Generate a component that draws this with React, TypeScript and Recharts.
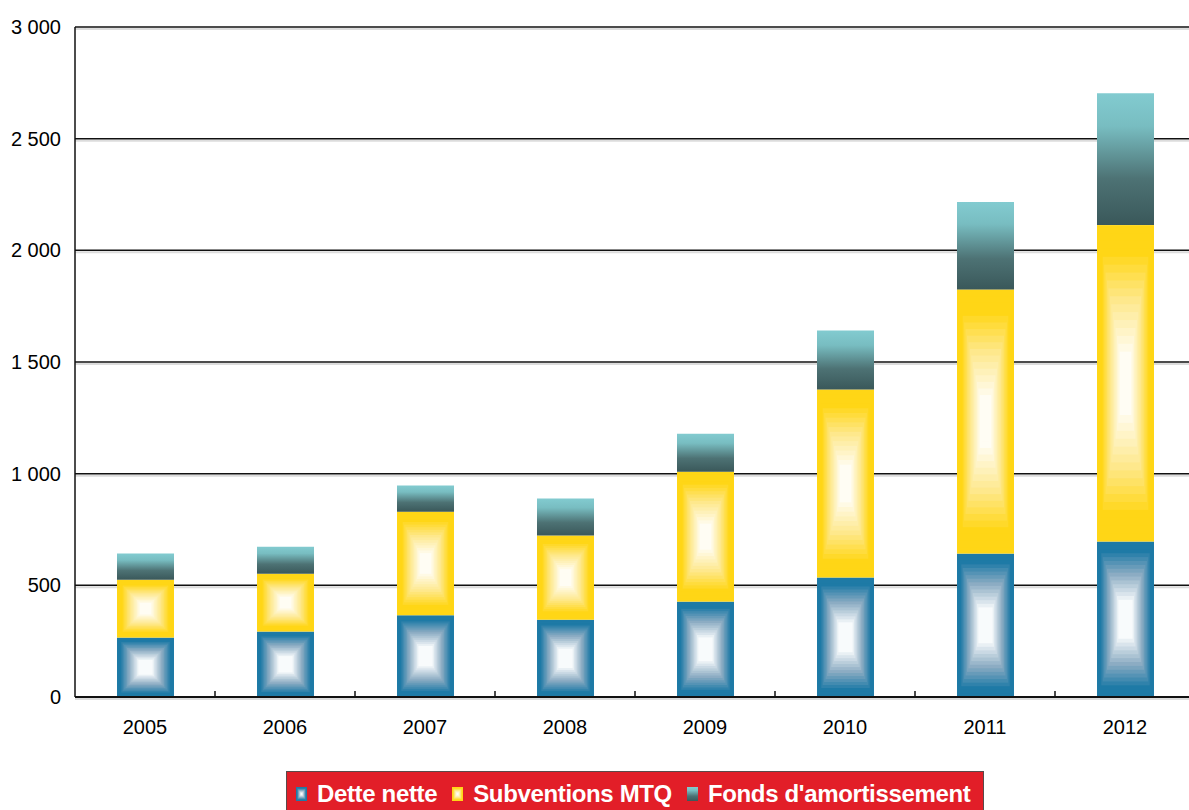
import React from "react";
import { BarChart, Bar, XAxis, YAxis, CartesianGrid, Legend } from "recharts";

// values (millions $)
const years = ["2005", "2006", "2007", "2008", "2009", "2010", "2011", "2012"];
const detteNette = [266, 293, 366, 346, 427, 535, 642, 696];
const subventionsMTQ = [259, 259, 464, 377, 582, 842, 1183, 1417];
const fondsAmortissement = [117, 121, 117, 166, 170, 264, 391, 590];
const yTicks = [0, 500, 1000, 1500, 2000, 2500, 3000];
const seriesOrder = ["dette", "subventions", "fonds"];

const data = years.map((year, i) => ({
  year,
  dette: detteNette[i],
  subventions: subventionsMTQ[i],
  fonds: fondsAmortissement[i],
}));

const FONT = "'Liberation Sans', Arial, sans-serif";
const CHART_W = 1196;
const PLOT_LEFT = 75;
const PLOT_RIGHT = 1;
const BAND = (CHART_W - PLOT_LEFT - PLOT_RIGHT) / years.length;

type RGB = [number, number, number];
// edge -> middle -> center colour stops for the "from center" fills
const BLUE: RGB[] = [[30, 122, 166], [140, 172, 195], [248, 251, 252]];
const YELLOW: RGB[] = [[255, 214, 22], [254, 232, 140], [255, 253, 244]];

const lerp = (a: RGB, b: RGB, t: number): RGB =>
  a.map((c, k) => Math.round(c + (b[k] - c) * t)) as RGB;

function ramp(stops: RGB[], t: number, start: number, mid: number, end: number) {
  let c: RGB;
  if (t <= start) c = stops[0];
  else if (t <= mid) c = lerp(stops[0], stops[1], (t - start) / (mid - start));
  else if (t <= end) c = lerp(stops[1], stops[2], (t - mid) / (end - mid));
  else c = stops[2];
  return `rgb(${c.join(",")})`;
}

// rectangular gradient drawn as concentric bands, like the original
function BoxGradient({ x, y, width, height, stops, start = 0.12, mid = 0.42, end = 0.78, steps = 20 }: any) {
  if (!width || !height) return null;
  const rects = [];
  for (let i = 0; i < steps; i++) {
    const t = i / steps;
    const ix = (t * width) / 2;
    const iy = (t * height) / 2;
    rects.push(
      <rect
        key={i}
        x={x + ix}
        y={y + iy}
        width={width - 2 * ix}
        height={height - 2 * iy}
        fill={ramp(stops, t, start, mid, end)}
      />
    );
  }
  return <g>{rects}</g>;
}

const DetteShape = (props: any) => <BoxGradient {...props} stops={BLUE} start={0.1} mid={0.4} end={0.75} />;
const SubvShape = (props: any) => <BoxGradient {...props} stops={YELLOW} start={0.15} mid={0.45} end={0.8} />;

const fondsStops = (
  <>
    <stop offset="0%" stopColor="#82CBD0" />
    <stop offset="25%" stopColor="#78BDC1" />
    <stop offset="65%" stopColor="#4D7274" />
    <stop offset="100%" stopColor="#3A585A" />
  </>
);

const formatThousands = (v: number) => String(v).replace(/\B(?=(\d{3})+(?!\d))/g, " ");

const GridLine = (props: any) => {
  const { x1, y1, x2, y2 } = props;
  return (
    <g key={props.key}>
      <line x1={x1} y1={y1 + 2} x2={x2} y2={y2 + 2} stroke="#dcdcdc" strokeWidth={2} />
      <line x1={x1} y1={y1} x2={x2} y2={y2} stroke="#111" strokeWidth={1.5} />
    </g>
  );
};

const X_TICK_MARGIN = 23;

const YearTick = (props: any) => {
  const { x, y, payload, index } = props;
  const axisY = y - X_TICK_MARGIN;
  return (
    <g>
      {index < years.length - 1 && (
        <line x1={x + BAND / 2} y1={axisY} x2={x + BAND / 2} y2={axisY - 6} stroke="#111" strokeWidth={1.5} />
      )}
      <text x={x} y={y} dy="0.71em" textAnchor="middle" fontSize={20} fill="#000" fontFamily={FONT}>
        {payload.value}
      </text>
    </g>
  );
};

const LegendIcon = ({ kind }: { kind: string }) => (
  <svg width={11} height={14} style={{ marginRight: 10, flex: "none", display: "block" }}>
    <defs>
      <linearGradient id="fondsIcon" x1="0" y1="0" x2="0" y2="1">
        {fondsStops}
      </linearGradient>
    </defs>
    {kind === "dette" && <BoxGradient x={0} y={0} width={11} height={14} stops={BLUE} steps={6} />}
    {kind === "subventions" && <BoxGradient x={0} y={0} width={11} height={14} stops={YELLOW} steps={6} />}
    {kind === "fonds" && <rect x={0} y={0} width={11} height={14} fill="url(#fondsIcon)" />}
  </svg>
);

const LegendBox = (props: any) => {
  const payload = [...(props.payload || [])].sort(
    (a: any, b: any) => seriesOrder.indexOf(a.dataKey) - seriesOrder.indexOf(b.dataKey)
  );
  return (
    <div
      style={{
        display: "flex",
        alignItems: "center",
        height: 44,
        background: "#E21E28",
        borderTop: "1.5px solid #5a4a4a",
        borderLeft: "1.5px solid #5a4a4a",
        borderRight: "1.5px solid #5a4a4a",
        boxSizing: "border-box",
        paddingLeft: 9,
        fontFamily: FONT,
        fontWeight: "bold",
        fontSize: 24,
        letterSpacing: -0.35,
        color: "#fff",
        whiteSpace: "nowrap",
      }}
    >
      {payload.map((entry: any) => (
        <div key={entry.dataKey} style={{ display: "flex", alignItems: "center", marginRight: 15 }}>
          <LegendIcon kind={entry.dataKey} />
          <span>{entry.value}</span>
        </div>
      ))}
    </div>
  );
};

export default function App() {
  return (
    <div style={{ position: "absolute", left: 0, top: 0, width: 1189, height: 810, overflow: "hidden", background: "#fff" }}>
      <BarChart
        width={CHART_W}
        height={810}
        data={data}
        margin={{ top: 27, right: PLOT_RIGHT, left: 0, bottom: 83 }}
        barSize={57}
        style={{ fontFamily: FONT }}
      >
        <defs>
          <linearGradient id="fondsGrad" x1="0" y1="0" x2="0" y2="1">
            {fondsStops}
          </linearGradient>
        </defs>
        <CartesianGrid vertical={false} horizontal={GridLine} />
        <XAxis
          dataKey="year"
          height={30}
          tickLine={false}
          tickSize={0}
          tickMargin={X_TICK_MARGIN}
          axisLine={{ stroke: "#111", strokeWidth: 2 }}
          tick={<YearTick />}
          interval={0}
        />
        <YAxis
          width={PLOT_LEFT}
          domain={[0, 3000]}
          ticks={yTicks}
          tickFormatter={formatThousands}
          tickLine={false}
          tickSize={0}
          tickMargin={14}
          axisLine={{ stroke: "#111", strokeWidth: 1.5 }}
          tick={{ fontSize: 20, fill: "#000", fontFamily: FONT }}
        />
        <Legend
          layout="horizontal"
          verticalAlign="middle"
          align="center"
          content={<LegendBox />}
          wrapperStyle={{ position: "absolute", left: 286, top: 771, width: 698, height: 44 }}
        />
        <Bar dataKey="dette" name="Dette nette" stackId="a" fill="#1E7AA6" shape={DetteShape} isAnimationActive={false} />
        <Bar dataKey="subventions" name="Subventions MTQ" stackId="a" fill="#FFD616" shape={SubvShape} isAnimationActive={false} />
        <Bar dataKey="fonds" name="Fonds d'amortissement" stackId="a" fill="url(#fondsGrad)" isAnimationActive={false} />
      </BarChart>
    </div>
  );
}
